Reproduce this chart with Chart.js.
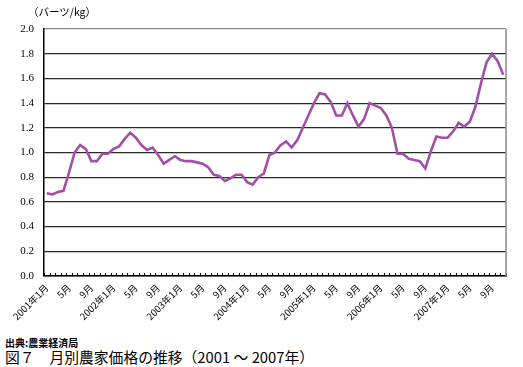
<!DOCTYPE html>
<html>
<head>
<meta charset="utf-8">
<script src="https://cdn.jsdelivr.net/npm/chart.js@4.4.1/dist/chart.umd.min.js"></script>
<style>
  html, body { margin: 0; padding: 0; background: #fff; }
  #wrap { position: relative; width: 523px; height: 367px; overflow: hidden; }
  #box { position: absolute; left: 0; top: 0; width: 523px; height: 332px; }
  .txt { position: absolute; font-family: "Noto Sans CJK JP", sans-serif; color: #000; white-space: nowrap; }
</style>
</head>
<body>
<div id="wrap">
  <div id="box"><canvas id="grafico"></canvas></div>
  <div class="txt" style="left:28px; top:4px; font-size:10.5px;">（バーツ/kg）</div>
  <div class="txt" style="left:5px; top:335px; font-size:10px; font-weight:bold;">出典:農業経済局</div>
  <div class="txt" style="left:5px; top:346px; font-size:14.8px;">図７　月別農家価格の推移（2001 ～ 2007年）</div>
</div>
<script>
// 2001年1月 ～ 2007年11月 (月次)
const anos = ['2001', '2002', '2003', '2004', '2005', '2006', '2007'];
const meses = ['1月', '2月', '3月', '4月', '5月', '6月', '7月', '8月', '9月', '10月', '11月', '12月'];

const precos = [
    0.67, 0.66, 0.68, 0.69, 0.84, 1.00, 1.06, 1.03, 0.93, 0.93, 0.99, 0.99,
    1.03, 1.05, 1.11, 1.16, 1.12, 1.06, 1.02, 1.04, 0.98, 0.91, 0.94, 0.97,
    0.94, 0.93, 0.93, 0.92, 0.91, 0.88, 0.82, 0.81, 0.77, 0.79, 0.82, 0.82,
    0.76, 0.74, 0.80, 0.83, 0.98, 1.00, 1.06, 1.09, 1.04, 1.10, 1.20, 1.30,
    1.40, 1.48, 1.47, 1.41, 1.30, 1.30, 1.40, 1.30, 1.21, 1.27, 1.40, 1.38,
    1.36, 1.30, 1.20, 0.99, 0.99, 0.95, 0.94, 0.93, 0.87, 1.01, 1.13, 1.12,
    1.12, 1.17, 1.24, 1.21, 1.25, 1.37, 1.56, 1.73, 1.80, 1.74, 1.63
];

// rótulos: "2001年1月" no início do ano, senão só o mês
const rotulos = [];
anos.forEach(a => meses.forEach((m, i) => rotulos.push(i === 0 ? a + '年' + m : m)));
rotulos.length = precos.length;

// marcas pequenas para dentro no eixo x + borda direita
const marcasX = {
    id: 'marcasX',
    afterDraw(chart) {
        const { ctx, chartArea, scales } = chart;
        const xs = scales.x;
        const n = precos.length;
        const passo = (chartArea.right - chartArea.left) / n;
        ctx.save();
        ctx.strokeStyle = '#000';
        ctx.lineWidth = 1;
        ctx.beginPath();
        for (let i = 0; i <= n; i++) {
            const x = Math.round(xs.left + i * passo) + 0.5;
            ctx.moveTo(x, chartArea.bottom);
            ctx.lineTo(x, chartArea.bottom - 3);
        }
        ctx.stroke();
        ctx.strokeStyle = '#8a8a8a';
        ctx.lineWidth = 1.5;
        ctx.beginPath();
        ctx.moveTo(chartArea.right, chartArea.top);
        ctx.lineTo(chartArea.right, chartArea.bottom);
        ctx.stroke();
        ctx.restore();
    }
};

const ctx = document.getElementById('grafico').getContext('2d');
new Chart(ctx, {
    type: 'line',
    data: {
        labels: rotulos,
        datasets: [{
            data: precos,
            borderColor: '#a24fa6',
            borderWidth: 2.6,
            pointRadius: 0,
            tension: 0,
            fill: false
        }]
    },
    options: {
        responsive: true,
        maintainAspectRatio: false,
        animation: false,
        layout: { padding: { left: 0, right: 17, top: 29, bottom: 0 } },
        plugins: { legend: { display: false }, tooltip: { enabled: false } },
        scales: {
            x: {
                offset: true,
                grid: { display: false, drawTicks: false },
                border: { display: true, color: '#000', width: 1.5 },
                ticks: {
                    autoSkip: false,
                    minRotation: 45,
                    maxRotation: 45,
                    padding: 6,
                    color: '#000',
                    font: { family: '"Noto Sans CJK JP", sans-serif', size: 9.5 },
                    callback: (v, i) => (i % 4 === 0 ? rotulos[i] : '')
                },
                afterFit: (s) => { s.height = 56; }
            },
            y: {
                min: 0,
                max: 2,
                ticks: {
                    stepSize: 0.2,
                    padding: 10,
                    color: '#000',
                    font: { family: '"Liberation Serif", serif', size: 11 },
                    callback: (v) => v.toFixed(1)
                },
                grid: {
                    drawTicks: false,
                    color: (c) => (c.tick && c.tick.value === 2 ? '#8a8a8a' : '#2a2a2a'),
                    lineWidth: 1.2
                },
                border: { display: true, color: '#000', width: 1.5 },
                afterFit: (s) => { s.width = 44; }
            }
        }
    },
    plugins: [marcasX]
});
</script>
</body>
</html>
